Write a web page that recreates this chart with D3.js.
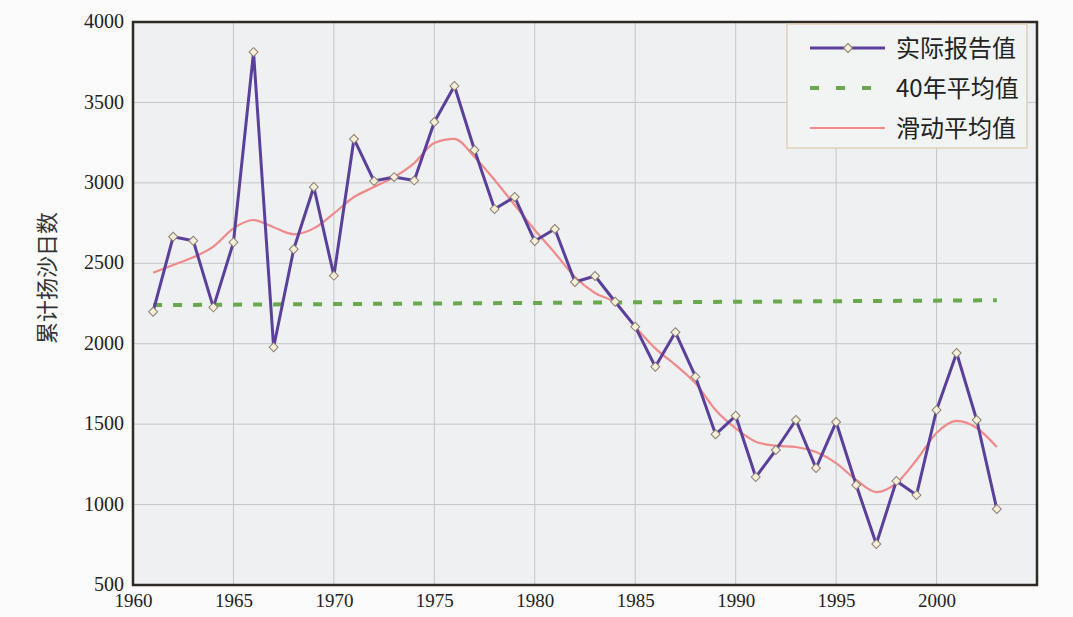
<html>
<head>
<meta charset="utf-8" />
<title>累计扬沙日数</title>
<script src="https://d3js.org/d3.v7.min.js"></script>
<style>
body { margin: 0; background: #fbfbfb; }
</style>
</head>
<body>
<script>

// years and values
var years = d3.range(1961, 2004);
var reported = [2199, 2665, 2640, 2226, 2630, 3813, 1978, 2587, 2974, 2423,
                3273, 3011, 3036, 3015, 3378, 3602, 3204, 2837, 2912, 2638,
                2713, 2384, 2421, 2261, 2106, 1857, 2071, 1795, 1437, 1552,
                1171, 1339, 1526, 1227, 1513, 1122, 755, 1147, 1059, 1588,
                1942, 1526, 972];
var moving = [2441, 2489, 2537, 2603, 2717, 2769, 2724, 2680, 2717, 2810,
              2912, 2974, 3036, 3123, 3248, 3273, 3161, 3018, 2862, 2707,
              2564, 2415, 2315, 2253, 2106, 1971, 1868, 1754, 1588, 1474,
              1391, 1366, 1358, 1327, 1258, 1153, 1078, 1134, 1277, 1445,
              1520, 1476, 1358];
var avgYears = [1961, 2003];
var avgValues = [2240, 2270];
var xTicks = [1960, 1965, 1970, 1975, 1980, 1985, 1990, 1995, 2000];
var yTicks = [500, 1000, 1500, 2000, 2500, 3000, 3500, 4000];
var legendNames = ["实际报告值", "40年平均值", "滑动平均值"];

var margin = {top: 22, right: 36, bottom: 32, left: 133};
var width = 1073 - margin.left - margin.right,
    height = 617 - margin.top - margin.bottom;

var svg = d3.select("body").append("svg")
  .attr("width", 1073)
  .attr("height", 617);

var g = svg.append("g").attr("transform", "translate(" + margin.left + "," + margin.top + ")");

var xScale = d3.scaleLinear().domain([1960, 2005]).range([0, width]);
var yScale = d3.scaleLinear().domain([500, 4000]).range([height, 0]);

g.append("rect")
  .attr("width", width)
  .attr("height", height)
  .attr("fill", "#eef0f1");

// grid
g.append("g")
  .selectAll("line").data(xTicks.concat([2005])).enter().append("line")
  .attr("x1", d => xScale(d)).attr("x2", d => xScale(d))
  .attr("y1", 0).attr("y2", height)
  .attr("stroke", "#c4c6c8").attr("stroke-width", 1);
g.append("g")
  .selectAll("line").data(yTicks).enter().append("line")
  .attr("x1", 0).attr("x2", width)
  .attr("y1", d => yScale(d)).attr("y2", d => yScale(d))
  .attr("stroke", "#c4c6c8").attr("stroke-width", 1);

// axes
var xAxis = g.append("g")
  .attr("transform", "translate(0," + height + ")")
  .call(d3.axisBottom(xScale).tickValues(xTicks).tickFormat(d3.format("d")).tickSize(0).tickPadding(9));
xAxis.select(".domain").remove();

var yAxis = g.append("g")
  .call(d3.axisLeft(yScale).tickValues(yTicks).tickFormat(d3.format("d")).tickSize(0).tickPadding(9));
yAxis.select(".domain").remove();

xAxis.attr("font-family", "'Liberation Serif', 'DejaVu Serif', serif").attr("font-size", 19);
yAxis.attr("font-family", "'Liberation Serif', 'DejaVu Serif', serif").attr("font-size", 20);
xAxis.selectAll("text").attr("fill", "#222");
yAxis.selectAll("text").attr("fill", "#222").attr("dy", "0.28em");

// average line
var lineAvg = d3.line()
  .x((d, i) => xScale(avgYears[i]))
  .y(d => yScale(d));

g.append("path")
  .datum(avgValues)
  .attr("fill", "none")
  .attr("stroke", "#6aa84f")
  .attr("stroke-width", 4)
  .attr("stroke-dasharray", "9,11")
  .attr("d", lineAvg);

// moving average
var lineMoving = d3.line()
  .x((d, i) => xScale(years[i]))
  .y(d => yScale(d))
  .curve(d3.curveMonotoneX);

g.append("path")
  .datum(moving)
  .attr("fill", "none")
  .attr("stroke", "#f08a8a")
  .attr("stroke-width", 2.2)
  .attr("d", lineMoving);

var lineReported = d3.line()
  .x((d, i) => xScale(years[i]))
  .y(d => yScale(d));

g.append("path")
  .datum(reported)
  .attr("fill", "none")
  .attr("stroke", "#5a409a")
  .attr("stroke-width", 3)
  .attr("stroke-linejoin", "round")
  .attr("d", lineReported);

// square turned 45 degrees = diamond marker
var diamond = d3.symbol().type(d3.symbolSquare).size(40);
g.append("g")
  .selectAll("path").data(reported).enter().append("path")
  .attr("transform", (d, i) => "translate(" + xScale(years[i]) + "," + yScale(d) + ") rotate(45)")
  .attr("d", diamond)
  .attr("fill", "#f7efd6")
  .attr("stroke", "#8a7f76")
  .attr("stroke-width", 1);

// frame
g.append("rect")
  .attr("width", width)
  .attr("height", height)
  .attr("fill", "none")
  .attr("stroke", "#2e2b27")
  .attr("stroke-width", 2.5);

// y label
svg.append("text")
  .attr("transform", "translate(55,278) rotate(-90)")
  .attr("text-anchor", "middle")
  .attr("font-family", "Noto Sans CJK SC")
  .attr("font-size", 22)
  .attr("fill", "#333")
  .text("累计扬沙日数");

// legend
var legend = svg.append("g").attr("transform", "translate(787,24)");
legend.append("rect")
  .attr("width", 240).attr("height", 124)
  .attr("fill", "#f2f3f3")
  .attr("stroke", "#e2c8a8").attr("stroke-width", 1.2);

var rows = legend.selectAll("g.row").data(legendNames).enter().append("g")
  .attr("class", "row")
  .attr("transform", (d, i) => "translate(0," + (24 + i * 40) + ")");

rows.append("text")
  .attr("x", 109).attr("y", 0).attr("dy", "0.36em")
  .attr("font-family", "Noto Sans CJK SC")
  .attr("font-size", 24)
  .attr("fill", "#222")
  .text(d => d);

legend.append("line")
  .attr("x1", 23).attr("x2", 98).attr("y1", 24).attr("y2", 24)
  .attr("stroke", "#5a409a").attr("stroke-width", 3);
legend.append("path")
  .attr("transform", "translate(61,24) rotate(45)")
  .attr("d", diamond)
  .attr("fill", "#f7efd6").attr("stroke", "#8a7f76");
legend.append("line")
  .attr("x1", 23).attr("x2", 100).attr("y1", 64).attr("y2", 64)
  .attr("stroke", "#6aa84f").attr("stroke-width", 4)
  .attr("stroke-dasharray", "9,17");
legend.append("line")
  .attr("x1", 23).attr("x2", 98).attr("y1", 104).attr("y2", 104)
  .attr("stroke", "#f08a8a").attr("stroke-width", 2.2);

</script>
</body>
</html>
